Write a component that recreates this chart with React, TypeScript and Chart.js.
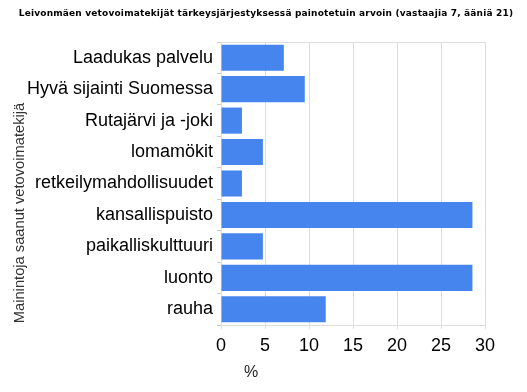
import React, { useEffect, useRef } from "react";
import { Chart, registerables } from "chart.js";

Chart.register(...registerables);

const categories = [
  "Laadukas palvelu",
  "Hyvä sijainti Suomessa",
  "Rutajärvi ja -joki",
  "lomamökit",
  "retkeilymahdollisuudet",
  "kansallispuisto",
  "paikalliskulttuuri",
  "luonto",
  "rauha",
];
const values = [7.14, 9.52, 2.38, 4.76, 2.38, 28.57, 4.76, 28.57, 11.9];
const xTicks = [0, 5, 10, 15, 20, 25, 30];
const titleText =
  "Leivonmäen vetovoimatekijät tärkeysjärjestyksessä painotetuin arvoin (vastaajia 7, ääniä 21)";
const yTitle = "Mainintoja saanut vetovoimatekijä";
const xTitle = "%";

export default function App() {
  const ref = useRef<HTMLCanvasElement>(null);
  useEffect(() => {
    document.body.style.margin = "0";
    const textPlugin = {
      id: "texts",
      afterDraw(chart: any) {
        const ctx = chart.ctx;
        const area = chart.chartArea;
        ctx.save();
        ctx.fillStyle = "#000";
        ctx.font = "bold 9px 'DejaVu Sans'";
        (ctx as any).letterSpacing = "0.18px";
        ctx.textAlign = "center";
        ctx.textBaseline = "middle";
        ctx.fillText(titleText, 266, 14);
        (ctx as any).letterSpacing = "0px";
        ctx.font = "16px 'Liberation Sans'";
        ctx.fillStyle = "#222";
        ctx.fillText(xTitle, area.left + 30, 373);
        ctx.translate(20, 213);
        ctx.rotate(-Math.PI / 2);
        ctx.fillStyle = "#333";
        ctx.font = "14.7px 'Liberation Sans'";
        ctx.fillText(yTitle, 0, 0);
        ctx.restore();
      },
    };
    const chart = new Chart(ref.current!, {
      type: "bar",
      data: {
        labels: categories,
        datasets: [
          {
            data: values,
            backgroundColor: "#4684EE",
            barPercentage: 0.83,
            categoryPercentage: 1,
          },
        ],
      },
      options: {
        indexAxis: "y",
        animation: false,
        responsive: false,
        layout: { padding: { top: 42, right: 42, left: 0, bottom: 0 } },
        plugins: { legend: { display: false }, tooltip: { enabled: false } },
        scales: {
          x: {
            min: 0,
            max: 30,
            afterBuildTicks(scale: any) {
              scale.ticks = xTicks.map((v) => ({ value: v }));
            },
            afterFit(scale: any) {
              scale.height = 67;
            },
            grid: { color: "#dddddd", lineWidth: 1, tickLength: 4 },
            border: { color: "#dddddd" },
            ticks: {
              color: "#000",
              font: { family: "'Liberation Sans'", size: 18 },
              padding: 6,
            },
          },
          y: {
            afterFit(scale: any) {
              scale.width = 221;
            },
            grid: {
              drawOnChartArea: false,
              color: "#cccccc",
              tickLength: 4,
              offset: true,
            },
            border: { color: "#dddddd" },
            ticks: {
              color: "#000",
              font: { family: "'Liberation Sans'", size: 18 },
              padding: 4,
            },
          },
        },
      },
      plugins: [
        textPlugin,
        {
          id: "topBorder",
          afterDraw(chart: any) {
            const { ctx, chartArea: a } = chart;
            ctx.save();
            ctx.strokeStyle = "#dddddd";
            ctx.lineWidth = 1;
            ctx.beginPath();
            ctx.moveTo(a.left, a.top + 0.5);
            ctx.lineTo(a.right, a.top + 0.5);
            ctx.stroke();
            ctx.restore();
          },
        },
      ],
    });
    return () => chart.destroy();
  }, []);
  return <canvas ref={ref} width={527} height={392} />;
}
